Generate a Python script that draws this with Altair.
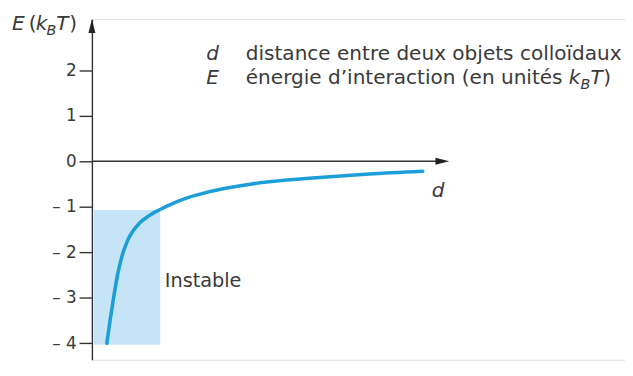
import altair as alt
import pandas as pd

# ---- data ----
curve_d = [0.42, 0.52, 0.61, 0.72, 0.86, 1.0, 1.15, 1.35, 1.6, 1.92, 2.3, 2.7, 3.2, 3.8, 4.5, 5.4, 6.5, 7.8, 9.31]
curve_E = [-4.0, -3.45, -3.0, -2.5, -2.05, -1.75, -1.54, -1.35, -1.2, -1.06, -0.92, -0.80, -0.69, -0.59, -0.50, -0.42, -0.35, -0.28, -0.22]

zone_d = [0.06, 1.92]
zone_E = [-4.03, -1.07]

y_ticks = [-4, -3, -2, -1, 0, 1, 2]

# annotation texts (d, E positions in data units)
plain_text = ["distance entre deux objets colloïdaux", "énergie d’interaction (en unités", "(", ")", ")"]
plain_d = [4.33, 4.33, -1.78, -0.64, 14.39]
plain_E = [2.23, 1.69, 2.88, 2.88, 1.69]

ital_text = ["d", "E", "E", "k", "T", "k", "T", "d"]
ital_d = [3.22, 3.22, -2.25, -1.58, -1.0, 13.42, 14.03, 9.56]
ital_E = [2.23, 1.69, 2.88, 2.88, 2.88, 1.69, 1.69, -0.78]

sub_text = ["B", "B"]
sub_d = [-1.28, 13.75]
sub_E = [2.77, 1.58]

zone_label = ["Instable"]
zone_label_d = [2.05]
zone_label_E = [-2.76]

arrow_y_d = [0.0]
arrow_y_E = [2.97]
arrow_x_d = [9.86]
arrow_x_E = [0.0]
xaxis_d = [0.0]
xaxis_d2 = [9.9]
xaxis_E = [0.0]

FONT = "DejaVu Sans"
INK = "#3a3a3a"
BLUE = "#1c9fd8"
ZONE = "#c6e4f7"

xs = alt.Scale(domain=[0, 15], nice=False, zero=False)
ys = alt.Scale(domain=[-4.36, 3.12], nice=False, zero=False)

yaxis = alt.Axis(
    values=y_ticks,
    labelExpr="datum.value < 0 ? '–  ' + abs(datum.value) : datum.label",
    title=None,
    grid=False,
    domainColor="#333333",
    domainWidth=1.4,
    tickColor="#333333",
    tickWidth=1.4,
    tickSize=13,
    labelPadding=3,
    labelFont=FONT,
    labelFontSize=17,
    labelColor=INK,
)


def X(field="d"):
    return alt.X(f"{field}:Q", scale=xs, axis=None)


def Y(field="E"):
    return alt.Y(f"{field}:Q", scale=ys, axis=yaxis)


zone_df = pd.DataFrame({"d": [zone_d[0]], "d2": [zone_d[1]], "E": [zone_E[0]], "E2": [zone_E[1]]})
zone = alt.Chart(zone_df).mark_rect(color=ZONE, opacity=1).encode(
    x=X(), x2="d2:Q", y=Y(), y2="E2:Q"
)

xline_df = pd.DataFrame({"d": xaxis_d, "d2": xaxis_d2, "E": xaxis_E})
xline = alt.Chart(xline_df).mark_rule(color="#333333", strokeWidth=1.4).encode(
    x=X(), x2="d2:Q", y=Y()
)

curve_df = pd.DataFrame({"d": curve_d, "E": curve_E})
curve = alt.Chart(curve_df).mark_line(
    color=BLUE, strokeWidth=3.6, interpolate="monotone", strokeCap="round"
).encode(x=X(), y=Y())

ay = alt.Chart(pd.DataFrame({"d": arrow_y_d, "E": arrow_y_E})).mark_point(
    shape="M0,-1L0.5,1L-0.5,1Z", size=196, filled=True, color="#222222", opacity=1, strokeWidth=0
).encode(x=X(), y=Y())

ax = alt.Chart(pd.DataFrame({"d": arrow_x_d, "E": arrow_x_E})).mark_point(
    shape="M1,0L-1,-0.5L-1,0.5Z", size=196, filled=True, color="#222222", opacity=1, strokeWidth=0
).encode(x=X(), y=Y())


def texts(txt, dd, ee, size=20.3, style="normal", align="left"):
    df = pd.DataFrame({"t": txt, "d": dd, "E": ee})
    return alt.Chart(df).mark_text(
        align=align, baseline="alphabetic", font=FONT, fontSize=size,
        fontStyle=style, color=INK
    ).encode(x=X(), y=Y(), text="t:N")


t_plain = texts(plain_text, plain_d, plain_E)
t_ital = texts(ital_text, ital_d, ital_E, style="italic")
t_sub = texts(sub_text, sub_d, sub_E, size=14.5, style="italic")
t_zone = texts(zone_label, zone_label_d, zone_label_E, size=19.5)

chart = alt.layer(
    zone, xline, curve, ay, ax, t_plain, t_ital, t_sub, t_zone
).properties(
    width=540,
    height=345,
    autosize=alt.AutoSizeParams(type="none"),
    padding={"left": 85, "top": 9, "right": 0, "bottom": 0},
).configure_view(stroke=None).configure(background="white")

chart.save("out.html", embed_options={"renderer": "svg", "actions": False})
